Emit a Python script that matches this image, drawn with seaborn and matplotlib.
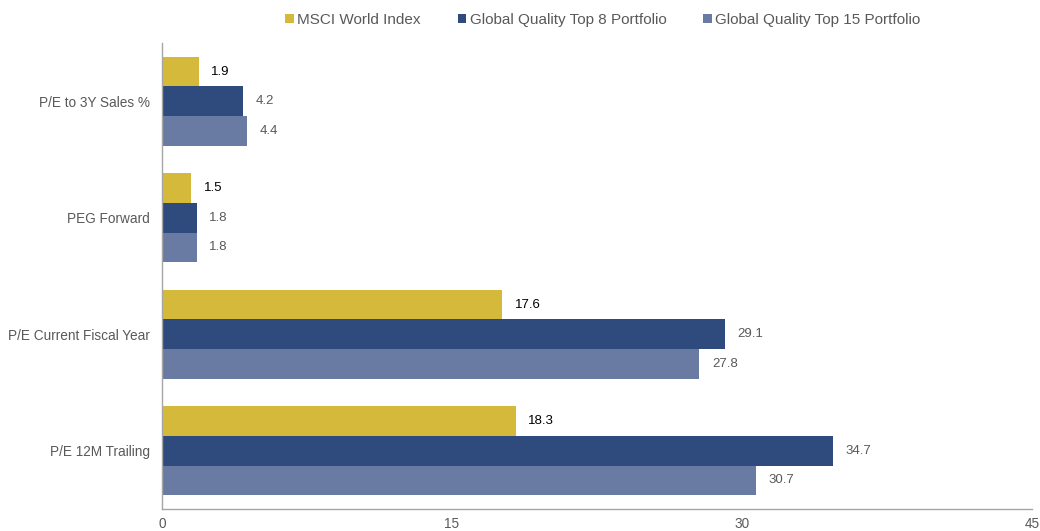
import matplotlib
matplotlib.use("Agg")
import matplotlib.pyplot as plt
import seaborn as sns
import pandas as pd
from matplotlib.patches import Patch

categories = ["P/E to 3Y Sales %", "PEG Forward", "P/E Current Fiscal Year", "P/E 12M Trailing"]
series_names = ["MSCI World Index", "Global Quality Top 8 Portfolio", "Global Quality Top 15 Portfolio"]
msci = [1.9, 1.5, 17.6, 18.3]
top8 = [4.2, 1.8, 29.1, 34.7]
top15 = [4.4, 1.8, 27.8, 30.7]
x_ticks = [0, 15, 30, 45]
colors = ["#D5B93A", "#2F4A7C", "#6A7BA3"]

rows = []
for name, vals in zip(series_names, [msci, top8, top15]):
    for c, v in zip(categories, vals):
        rows.append({"category": c, "series": name, "value": v})
df = pd.DataFrame(rows)

sns.set_theme(style="white")
plt.rcParams['font.family'] = ['Liberation Sans', 'DejaVu Sans']

fig = plt.figure(figsize=(10.4, 5.31), dpi=100)
ax = fig.add_axes([162/1040, 1-509/531, (1032-162)/1040, (509-43)/531])

sns.barplot(data=df, y="category", x="value", hue="series", order=categories,
            hue_order=series_names, palette=colors, orient="h", width=0.765,
            ax=ax, legend=False, linewidth=0, saturation=1)

for i, cont in enumerate(ax.containers):
    col = "black" if i == 0 else "#595959"
    ax.bar_label(cont, labels=[f"{v:.1f}" for v in cont.datavalues], padding=9,
                 fontsize=9.5, color=col)

ax.set_xlim(0, 45)
ax.set_ylim(3.5, -0.5)
ax.set_xticks(x_ticks)
ax.set_xticklabels([str(t) for t in x_ticks])
ax.set_xlabel("")
ax.set_ylabel("")
ax.tick_params(axis="both", length=0, colors="#595959", labelsize=9.8)
ax.tick_params(axis="x", pad=6)
ax.tick_params(axis="y", pad=8.5)
for s in ["top", "right"]:
    ax.spines[s].set_visible(False)
for s in ["left", "bottom"]:
    ax.spines[s].set_color("#A6A6A6")
    ax.spines[s].set_linewidth(1)

handles = [Patch(facecolor=c, edgecolor="none") for c in colors]
fig.legend(handles, series_names, loc="center", bbox_to_anchor=(603/1040, 1-20/531), ncol=3,
           frameon=False, handlelength=0.55, handleheight=0.55, handletextpad=0.25,
           columnspacing=2.4, fontsize=11, labelcolor="#595959")

fig.savefig("out.png", dpi=100)
